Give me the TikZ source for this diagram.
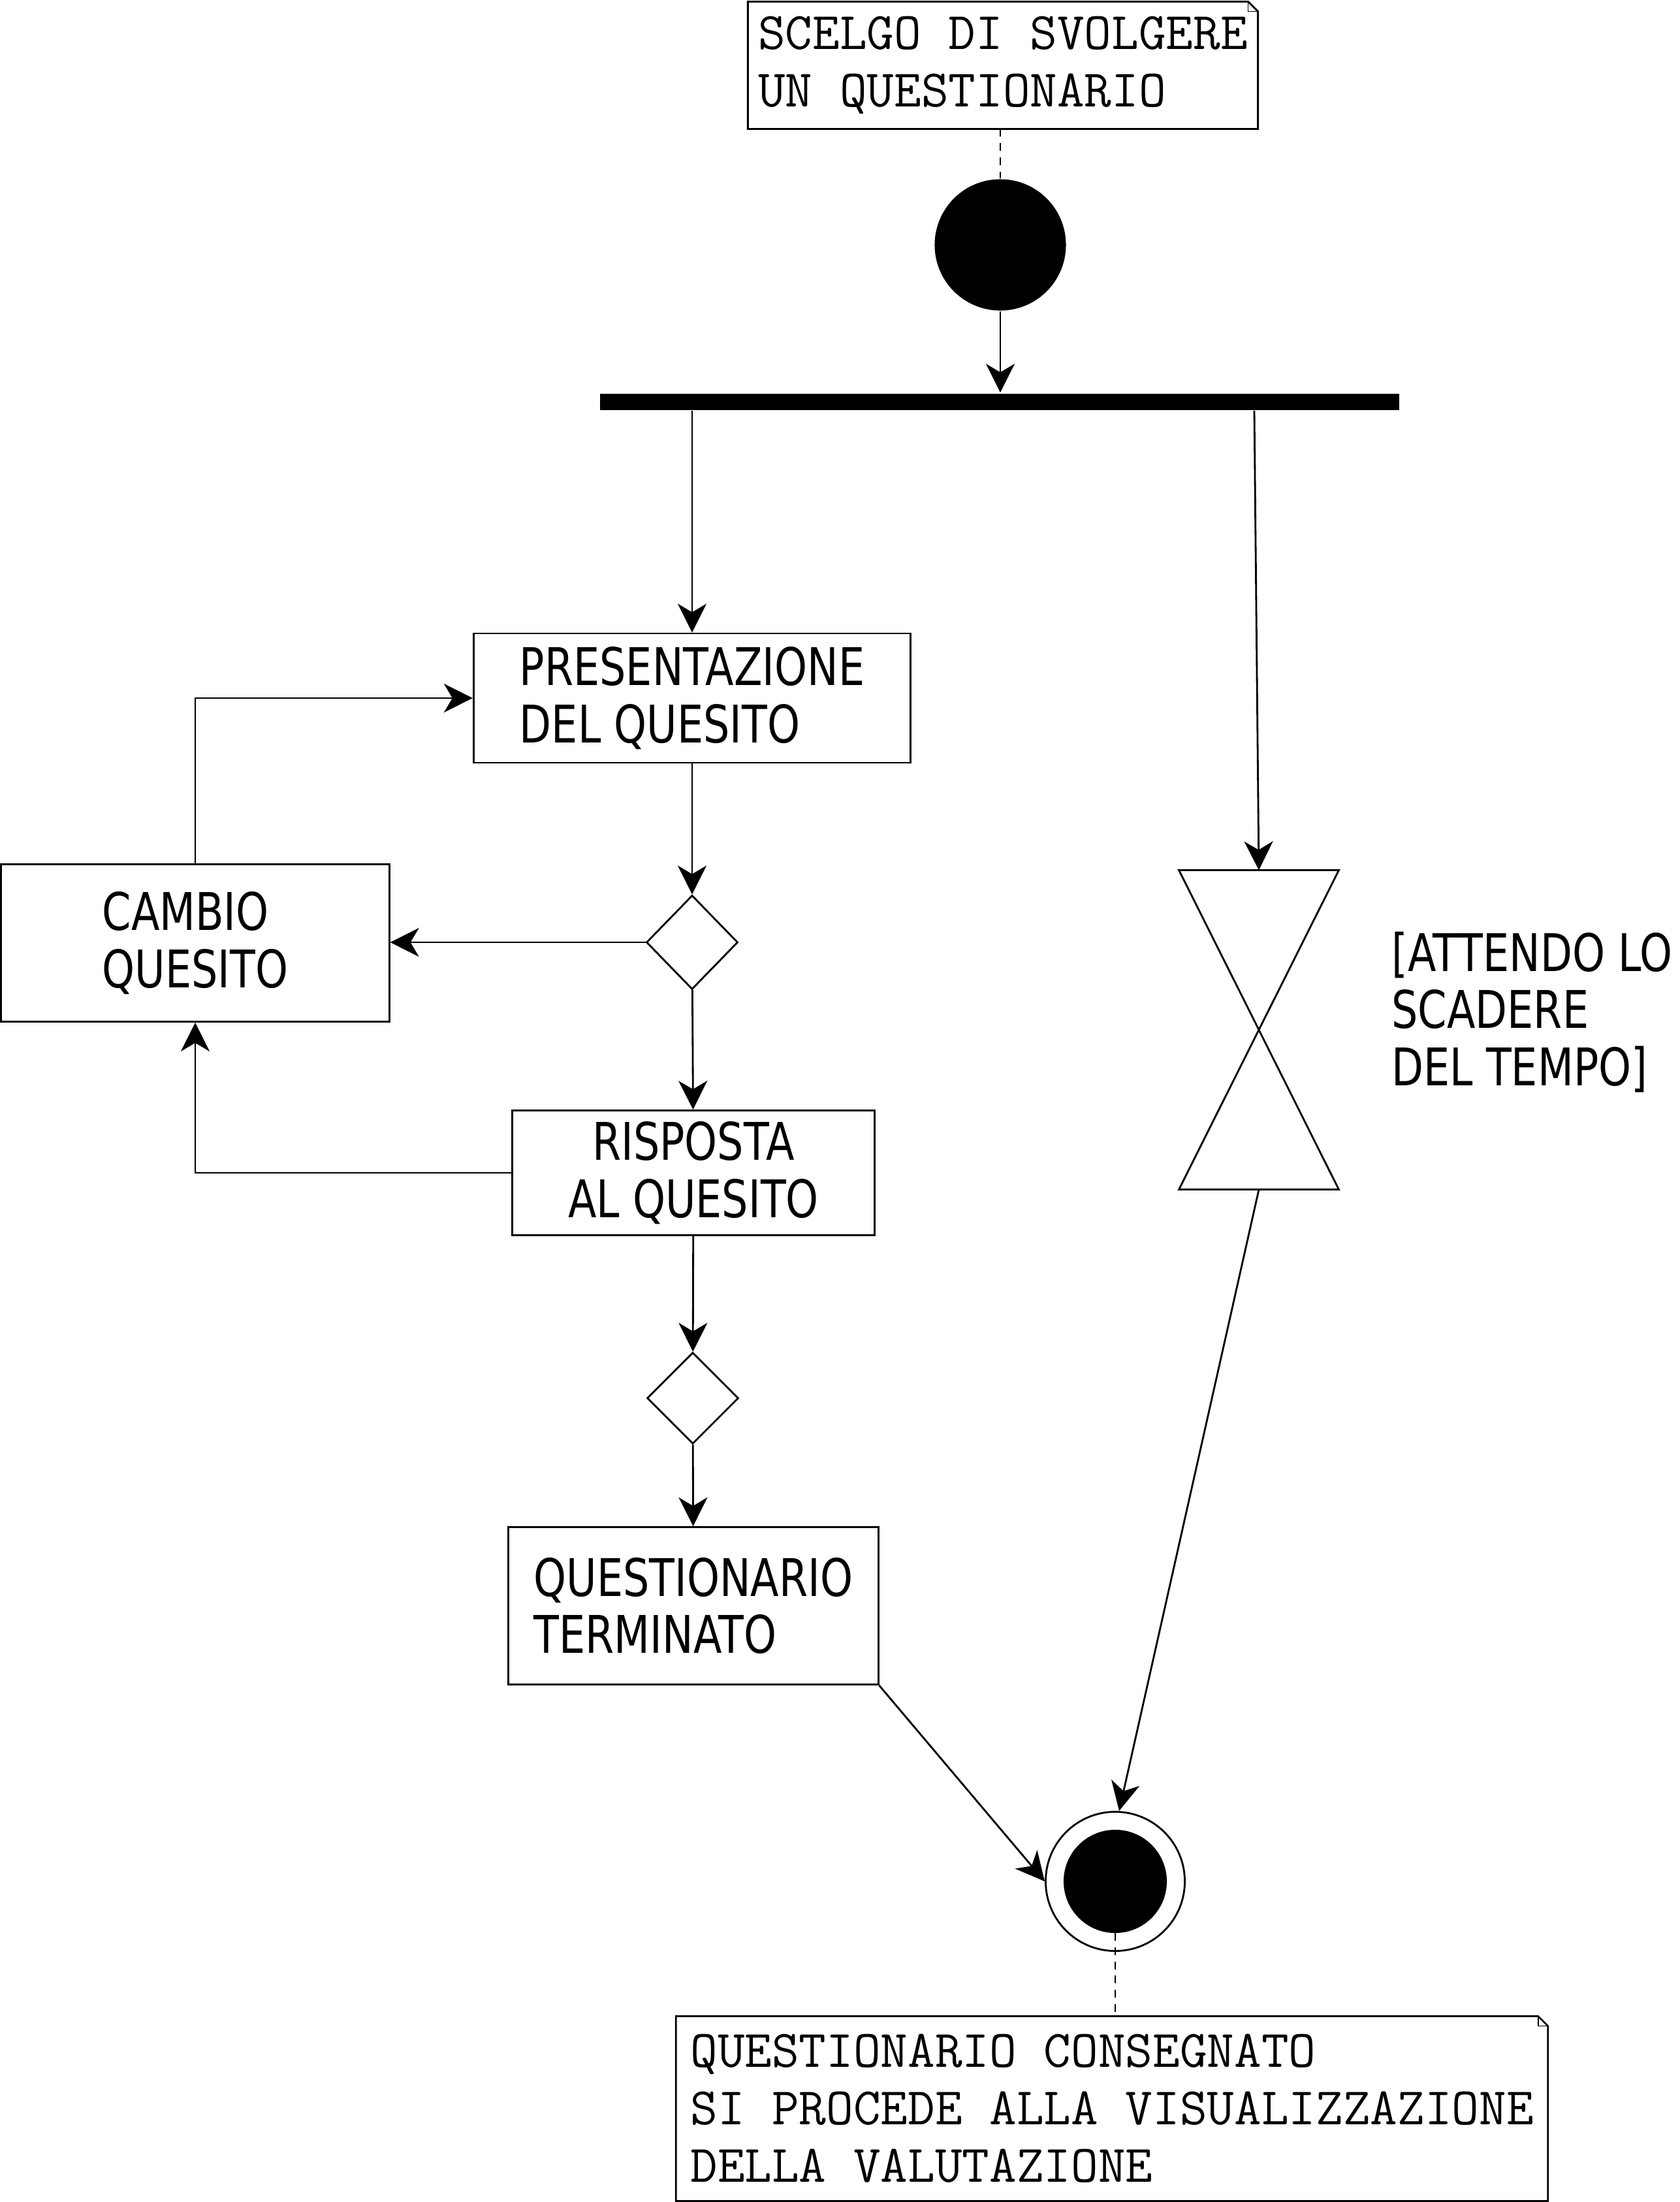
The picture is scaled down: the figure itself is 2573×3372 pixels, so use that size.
\documentclass[tikz,border=0pt]{standalone}
\usepackage{fontspec}
\newfontfamily\labelfont[FakeStretch=0.8]{DejaVu Sans}
\usetikzlibrary{shapes.geometric,arrows.meta}

\begin{document}
\begin{tikzpicture}[x=0.01cm,y=-0.01cm,line width=0.8pt,
    >={Stealth[length=4.4mm,width=4.4mm,inset=1.3mm]},
    action/.style={draw,rectangle,align=left,font=\labelfont\fontsize{22.6pt}{25pt}\selectfont},
    decision/.style={draw,diamond,inner sep=0pt,minimum width=1.40cm,minimum height=1.44cm},
    note/.style={rectangle,align=left,inner xsep=0.1cm,font=\ttfamily\fontsize{23pt}{25pt}\selectfont},
    link/.style={dash pattern=on 3.4pt off 2.8pt}]
    \useasboundingbox (0,0) rectangle (2573,3372);

    % notes
    \node (note1) [note,minimum width=7.78cm,minimum height=1.92cm] at (1536,100) {SCELGO DI SVOLGERE\\UN QUESTIONARIO};
    \draw (note1.north west) -- ([xshift=-0.15cm]note1.north east) -- ([yshift=-0.15cm]note1.north east) -- (note1.south east) -- (note1.south west) -- cycle;
    \draw[line width=0.4pt] ([xshift=-0.15cm]note1.north east) |- ([yshift=-0.15cm]note1.north east);
    \node (note2) [note,inner xsep=0.11cm,minimum width=13.32cm,minimum height=2.80cm] at (1703,3229) {QUESTIONARIO CONSEGNATO\\SI PROCEDE ALLA VISUALIZZAZIONE\\DELLA VALUTAZIONE};
    \draw (note2.north west) -- ([xshift=-0.15cm]note2.north east) -- ([yshift=-0.15cm]note2.north east) -- (note2.south east) -- (note2.south west) -- cycle;
    \draw[line width=0.4pt] ([xshift=-0.15cm]note2.north east) |- ([yshift=-0.15cm]note2.north east);

    % start, fork
    \node (start) [circle,fill,minimum size=2.01cm,inner sep=0pt] at (1532,375) {};
    \node (bar) [rectangle,fill,minimum width=12.24cm,minimum height=0.25cm,inner sep=0pt] at (1531,615) {};

    % actions and decisions
    \node (pres) [action,minimum width=6.69cm,minimum height=1.98cm] at (1060,1069) {PRESENTAZIONE\\DEL QUESITO};
    \node (d1) [decision] at (1060,1443) {};
    \node (cambio) [action,minimum width=5.94cm,minimum height=2.41cm] at (299,1444) {CAMBIO\\QUESITO};
    \node (risp) [action,align=center,minimum width=5.55cm,minimum height=1.91cm] at (1062,1796) {RISPOSTA\\AL QUESITO};
    \node (d2) [decision,minimum height=1.40cm] at (1061,2141) {};
    \node (term) [action,minimum width=5.66cm,minimum height=2.41cm] at (1062,2459) {QUESTIONARIO\\TERMINATO};

    % timer
    \node (hg) [minimum width=2.42cm,minimum height=4.86cm] at (1928,1577) {};
    \draw (hg.north west) -- (hg.north east) -- (hg.south west) -- (hg.south east) -- cycle;
    \node (wait) [anchor=west,inner sep=0pt,align=left,font=\labelfont\fontsize{22.6pt}{25pt}\selectfont] at (2130,1550) {[ATTENDO LO\\SCADERE\\DEL TEMPO]};

    % end
    \node (end) [circle,draw,minimum size=2.13cm,path picture={\fill (path picture bounding box.center) circle (0.79cm);}] at (1708,2881) {};

    % flows
    \draw[->] (start) -- (start.south |- bar.north);
    \draw[->] (pres.north |- bar.south) -- (pres);
    \draw[->] ([xshift=-0.07cm]hg.north |- bar.south) -- (hg.north);
    \draw[->] (pres) -- (d1);
    \draw[->] (d1.west) -- (cambio.east |- d1.west);
    \draw[->] (cambio) |- (pres);
    \draw[->] (d1) -- (risp);
    \draw[->] (risp) -| (cambio);
    \draw[->] (risp) -- (d2);
    \draw[->] (d2) -- (term);
    \draw[->] (term.south east) -- (end.west);
    \draw[->] (hg.south) -- ([xshift=0.06cm]end.north);
    \draw[link] (note1.south -| start) -- (start);
    \draw[link] ([yshift=-0.79cm]end.center) -- (end.center |- note2.north);
\end{tikzpicture}
\end{document}
